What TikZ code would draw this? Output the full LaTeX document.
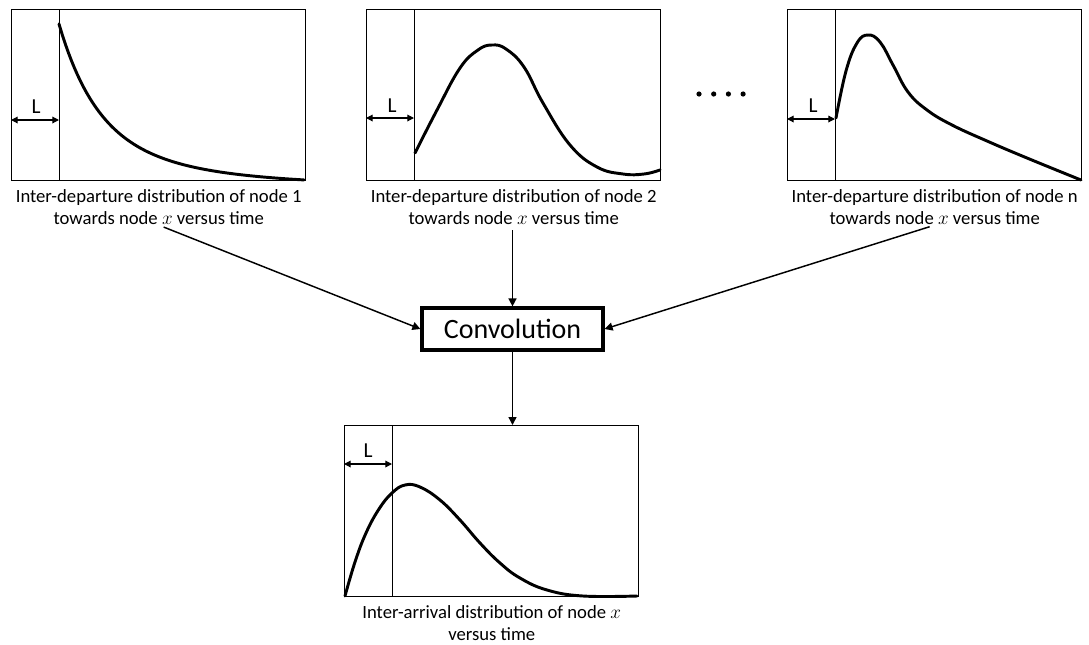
\documentclass[tikz,border=0pt]{standalone}
\usepackage{fontspec}
\setmainfont{Carlito}
\usetikzlibrary{arrows.meta,positioning}

\begin{document}
\begin{tikzpicture}[
  x=0.75pt,y=-0.75pt,
  plotbox/.style={draw,line width=1.1pt,minimum width=220.5pt,minimum height=128.25pt,inner sep=0pt,anchor=north west},
  caption/.style={align=center,inner sep=0pt,font=\fontsize{14}{16.5}\selectfont},
  curve/.style={line width=2.2pt,line join=round,line cap=round},
  delay/.style={line width=0.75pt},
  span/.style={line width=0.9pt,{Triangle[length=5pt,width=5pt]}-{Triangle[length=5pt,width=5pt]}},
  lbl/.style={inner sep=0pt,font=\fontsize{16}{19}\selectfont},
  link/.style={->,line width=1.1pt,shorten <=4pt},
  >={Triangle[length=6pt,width=6pt]}]
\useasboundingbox (0,0) rectangle (1089,644);

\node[plotbox] (plot1) at (11,9) {};
\node[plotbox] (plot2) at (366,9) {};
\node[plotbox] (plotn) at (787,9) {};
\node[plotbox] (plotx) at (344,425) {};

\node[caption,below=6pt of plot1] (cap1) {Inter-departure distribution of node 1\\towards node $x$ versus time};
\node[caption,below=6pt of plot2] (cap2) {Inter-departure distribution of node 2\\towards node $x$ versus time};
\node[caption,below=6pt of plotn] (capn) {Inter-departure distribution of node n\\towards node $x$ versus time};
\node[caption,below=6pt of plotx] (capx) {Inter-arrival distribution of node $x$\\versus time};

\node[draw,line width=2.4pt,minimum width=135.75pt,minimum height=31.5pt,inner sep=0pt,
  font=\fontsize{21}{25}\selectfont] (conv) at (512.5,329) {Convolution};

% dots between plot 2 and plot n
\foreach \i in {0,...,3}
  \fill (699+14.7*\i,94) circle (2.6);

% node 1
\begin{scope}[shift={(plot1.north west)}]
  \draw[delay] (48,0) -- (48,171);
  \draw[span] (0,111) -- (48,111);
  \node[lbl] (l1) at (25,98) {L};
  \draw[curve] plot[domain=48:293,samples=80] (\x,{171-156*(0.6*exp(-(\x-48)/35)+0.4*exp(-(\x-48)/85))+3.5*(\x-48)/245});
\end{scope}

% node 2
\begin{scope}[shift={(plot2.north west)}]
  \draw[delay] (48,0) -- (48,171);
  \draw[span] (0,109) -- (48,109);
  \node[lbl] (l2) at (26,97) {L};
  \draw[curve] plot[smooth,tension=0.7] coordinates {(49,144) (71,101) (94,59) (112,41) (126,36) (140,40) (158,58) (177,94) (204,136) (231,158) (257,165) (278,165) (294,161)};
\end{scope}

% node n
\begin{scope}[shift={(plotn.north west)}]
  \draw[delay] (48,0) -- (48,171);
  \draw[span] (0,110) -- (48,110);
  \node[lbl] (ln) at (26,97) {L};
  \draw[curve] plot[smooth,tension=0.7] coordinates {(49,109) (59,62) (70,34) (81,26) (93,33) (106,56) (121,83) (140,101) (165,116) (200,132) (240,149) (294,171)};
\end{scope}

% node x
\begin{scope}[shift={(plotx.north west)}]
  \draw[delay] (48,0) -- (48,171);
  \draw[span] (0,39) -- (48,39);
  \node[lbl] (lx) at (24,26) {L};
  \draw[curve] plot[smooth,tension=0.7] coordinates {(1,171) (11,137) (22,108) (35,84) (48,68) (61,60) (76,62) (96,75) (116,95) (136,118) (156,138) (176,153) (203,165) (239,171) (293,171)};
\end{scope}

\draw[link] (cap1.south) -- (conv.west);
\draw[link] (conv.north |- cap2.south) -- (conv.north);
\draw[link] (capn.south) -- (conv.east);
\draw[->,line width=1.1pt] (conv.south) -- (conv.south |- plotx.north);
\end{tikzpicture}
\end{document}
